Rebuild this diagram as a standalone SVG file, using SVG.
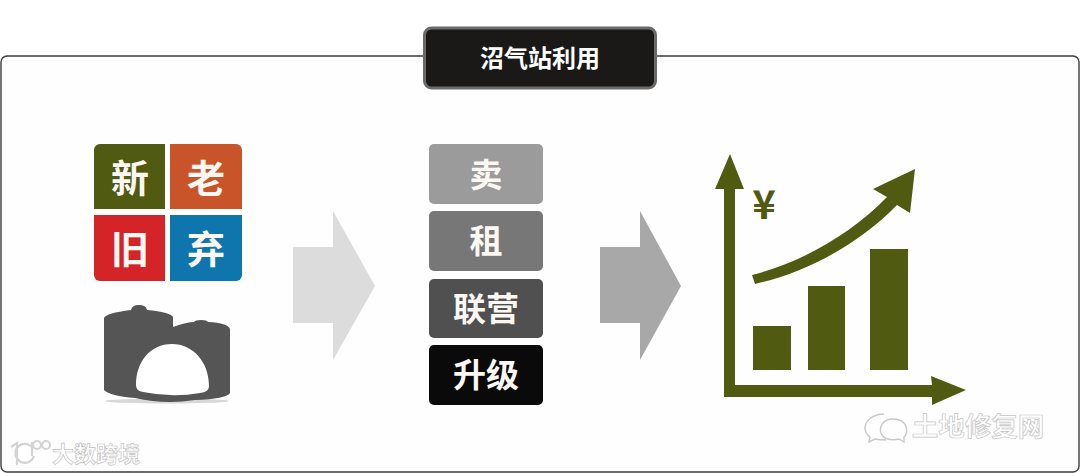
<svg xmlns="http://www.w3.org/2000/svg" width="1080" height="473" viewBox="0 0 1080 473">
<style>
text{font-family:"Noto Sans CJK SC","Noto Sans",sans-serif;text-anchor:middle;font-weight:700}
.w{fill:#fbf8f3}
.o{fill:#505a10}
.mark{fill:#fff;stroke:#c4c4c4;stroke-width:.7}
.line{fill:none;stroke:#c9c9c9;stroke-width:1.4}
.line2{fill:none;stroke:#d4d4d4;stroke-width:2.2}
</style>
<rect width="1080" height="473" fill="#fff"/>
<rect id="frame" x="1" y="56" width="1078" height="416" rx="6" fill="#fefefe" stroke="#3c3c3c" stroke-width="1.4"/>
<g id="title">
<rect x="424.500" y="28" width="231" height="60" rx="7" fill="#1b1918" stroke="#6a6a6a" stroke-width="3"/>
<text x="540" y="67" font-size="24" fill="#fff">沼气站利用</text>
</g>
<g id="tiles">
<g id="tile-xin"><path d="M94 209V150a6 6 0 0 1 6-6H165V209Z" fill="#505a10"/><text class="w" x="130" y="192" font-size="38">新</text></g>
<g id="tile-lao"><path d="M170 144H236a6 6 0 0 1 6 6V209H170Z" fill="#c9542a"/><text class="w" x="206" y="192" font-size="38">老</text></g>
<g id="tile-jiu"><path d="M94 215H165V281H100a6 6 0 0 1-6-6Z" fill="#d42427"/><text class="w" x="130" y="263" font-size="38">旧</text></g>
<g id="tile-qi"><path d="M170 215H242V275a6 6 0 0 1-6 6H170Z" fill="#0e76ad"/><text class="w" x="206" y="263" font-size="38">弃</text></g>
</g>
<g id="tank">
<ellipse cx="167" cy="401" rx="62" ry="2.500" fill="#d8d8d8"/>
<path d="M104 318Q106 313 131 310Q132 305 139 305Q146 305 147 310Q170 312 173 317V327Q187 322 194 322Q195 320 201 320Q207 320 208 322Q228 323 230 329V393Q226 399 195 400Q165 405 135 398Q110 396 104 390Z" fill="#555"/>
<path d="M136 385C136 362 150 344 172 344C193 344 209 362 209 386Q209 392 200 393Q172 398 143 392Q136 391 136 385Z" fill="#fff"/>
</g>
<g id="connectors">
<path d="M293 247H333V211L375 286L333 360V323H293Z" fill="#dddcdc"/>
<path d="M600 247H640V211L681 286L640 360V323H600Z" fill="#a9a8a8"/>
</g>
<g id="options">
<g id="opt-sell"><rect x="429" y="144" width="114" height="60" rx="5" fill="#9b9b9b"/><text class="w" x="486" y="187" font-size="33">卖</text></g>
<g id="opt-rent"><rect x="429" y="211" width="114" height="60" rx="5" fill="#777"/><text class="w" x="486" y="253" font-size="33">租</text></g>
<g id="opt-joint"><rect x="429" y="279" width="114" height="59" rx="5" fill="#505050"/><text class="w" x="486" y="321" font-size="33">联营</text></g>
<g id="opt-upgrade"><rect x="429" y="345" width="114" height="60" rx="5" fill="#0a0a0a"/><text class="w" x="486" y="387" font-size="33">升级</text></g>
</g>
<g id="chart">
<path class="o" d="M730 154L744 189H735V385H932L931 376L966 390L932 405V397H724V189H715Z"/>
<rect class="o" x="753" y="326" width="38" height="44"/>
<rect class="o" x="808" y="286" width="37" height="84"/>
<rect class="o" x="870" y="249" width="38" height="121"/>
<path class="o" d="M752 275C800 263 850 235 887 197L873 189L915 169L910 213L897 205C858 245 805 273 755 284Z"/>
<text class="o" x="764" y="219" font-size="40" font-weight="400">¥</text>
</g>
<g id="watermark-left">
<path class="line2" d="M11 447L17 443V465M32 447A9.500 9.500 0 1 0 34 456M32 442V456"/>
<circle class="line2" cx="37" cy="445" r="4"/><circle class="line2" cx="46" cy="445" r="4"/>
<text class="mark" x="96" y="462" font-size="22" font-weight="400">大数跨境</text>
</g>
<g id="watermark-right">
<path class="line" d="M884 414C874 414 865 420 865 428C865 432 867 435 870 437L869 442L875 439C879 440 882 440 886 440"/>
<path class="line" d="M893 419C883 419 879 427 881 433C883 439 891 441 899 439L904 442L904 437C909 433 908 419 893 419Z"/>
<text class="mark" x="978" y="436" font-size="26.500" font-weight="400">土地修复网</text>
</g>
</svg>
